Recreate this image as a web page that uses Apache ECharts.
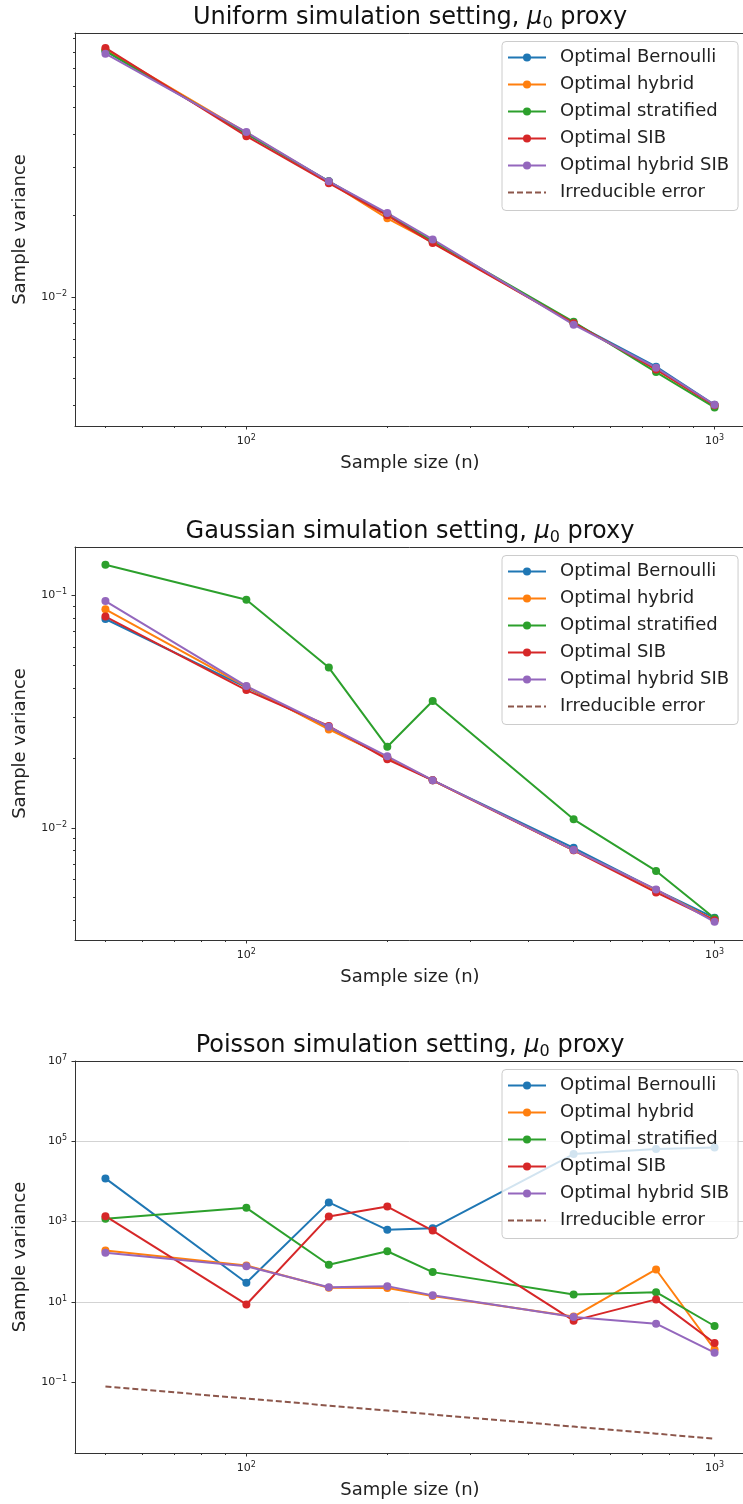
<!DOCTYPE html>
<html>
<head>
<meta charset="utf-8">
<script src="https://cdn.jsdelivr.net/npm/echarts@6.0.0/dist/echarts.min.js"></script>
<style>
html, body { margin: 0; padding: 0; background: #fff; overflow: hidden; }
#chart { width: 743px; height: 1504px; }
</style>
</head>
<body>
<div id="chart"></div>
<script>
// sample sizes (x) shared by all three panels
const sampleSizes = [50, 100, 150, 200, 250, 500, 750, 1000];
const seriesNames = ['Optimal Bernoulli', 'Optimal hybrid', 'Optimal stratified', 'Optimal SIB', 'Optimal hybrid SIB', 'Irreducible error'];
const seriesColors = ['#1f77b4', '#ff7f0e', '#2ca02c', '#d62728', '#9467bd', '#8c564b'];

// Uniform setting
const uniBernoulli = [0.081, 0.0400, 0.0267, 0.0201, 0.0160, 0.0080, 0.00553, 0.00400];
const uniHybrid = [0.082, 0.0404, 0.0266, 0.0195, 0.0159, 0.0080, 0.00540, 0.00398];
const uniStratified = [0.081, 0.0401, 0.0267, 0.0201, 0.0161, 0.0081, 0.00528, 0.00391];
const uniSIB = [0.083, 0.0392, 0.0263, 0.0200, 0.0158, 0.0080, 0.00540, 0.00398];
const uniHybridSIB = [0.079, 0.0406, 0.0267, 0.0204, 0.0163, 0.0079, 0.00548, 0.00400];

// Gaussian setting
const gauBernoulli = [0.0791, 0.0402, 0.0268, 0.0200, 0.0160, 0.0082, 0.0054, 0.0041];
const gauHybrid = [0.0871, 0.0405, 0.0265, 0.0201, 0.0160, 0.0080, 0.0054, 0.0040];
const gauStratified = [0.1355, 0.0958, 0.0489, 0.0223, 0.0351, 0.01087, 0.00652, 0.00408];
const gauSIB = [0.0810, 0.0391, 0.0274, 0.0197, 0.0160, 0.0080, 0.00527, 0.0040];
const gauHybridSIB = [0.0945, 0.0407, 0.0272, 0.0203, 0.01603, 0.00802, 0.00543, 0.00394];

// Poisson setting
const poiBernoulli = [11900, 29.9, 3000, 621, 682, 48000, 64000, 70000];
const poiHybrid = [190, 80, 22.4, 22, 13.9, 4.3, 64, 0.65];
const poiStratified = [1170, 2200, 84, 182, 55, 15.3, 17.4, 2.5];
const poiSIB = [1360, 8.6, 1330, 2360, 597, 3.4, 11.5, 0.94];
const poiHybridSIB = [166, 77, 23.2, 24.6, 14.5, 4.2, 2.85, 0.54];
const poiIrreducible = [0.078, 0.039, 0.026, 0.0195, 0.0156, 0.0078, 0.0052, 0.0039];

// tick values
const xMajorTicks = [100, 1000];
const xMinorTicks = [50, 60, 70, 80, 90, 200, 300, 400, 500, 600, 700, 800, 900];
const yMajorUniform = [0.01];
const yMajorGaussian = [0.01, 0.1];
const yMinorSmall = [0.004, 0.005, 0.006, 0.007, 0.008, 0.009, 0.02, 0.03, 0.04, 0.05, 0.06, 0.07, 0.08, 0.09];
const yMajorPoisson = [0.1, 10, 1000, 100000, 10000000];

const panels = [
  { title: 'Uniform simulation setting, ', top: 33, height: 393, yMin: 0.00334, yMax: 0.0942,
    yMajor: yMajorUniform, yMinor: yMinorSmall,
    data: [uniBernoulli, uniHybrid, uniStratified, uniSIB, uniHybridSIB] },
  { title: 'Gaussian simulation setting, ', top: 547, height: 393, yMin: 0.00329, yMax: 0.1614,
    yMajor: yMajorGaussian, yMinor: yMinorSmall,
    data: [gauBernoulli, gauHybrid, gauStratified, gauSIB, gauHybridSIB] },
  { title: 'Poisson simulation setting, ', top: 1061, height: 392, yMin: 0.001714, yMax: 10000000,
    yMajor: yMajorPoisson, yMinor: [],
    data: [poiBernoulli, poiHybrid, poiStratified, poiSIB, poiHybridSIB, poiIrreducible] }
];

// x range; the plot area is cut off by the right edge of the picture
const xMin = 43.05, xMax = 1220;
const FONT = 'DejaVu Sans';
const inkColor = '#222222';
const spineColor = '#333333';
const gridLineColor = '#d3d3d3';

function powLabel(v) {
  const e = Math.round(Math.log10(v));
  return '10{sup|' + String(e).replace('-', '\u2212') + '}';
}
const tickLabelStyle = {
  fontFamily: FONT, fontSize: 11, color: inkColor, lineHeight: 14,
  rich: { sup: { fontFamily: FONT, fontSize: 8, color: inkColor, lineHeight: 9, verticalAlign: 'top' } }
};

// legend entries: the dashed reference line shows no marker
const legendData = seriesNames.map((name, i) =>
  i === 5 ? { name: name, itemStyle: { opacity: 0 } } : { name: name });

const chart = echarts.init(document.getElementById('chart'), null, { renderer: 'canvas' });

const grid = [], xAxis = [], yAxis = [], legend = [], series = [];

panels.forEach((p, k) => {
  grid.push({ left: 75, width: 680, top: p.top, height: p.height, show: false,
    containLabel: false, outerBoundsMode: 'none' });

  // main x axis: data, major ticks, labels, grid lines
  xAxis.push({
    type: 'log', gridIndex: k, position: 'bottom', min: xMin, max: xMax,
    name: 'Sample size (n)', nameLocation: 'middle', nameGap: 27,
    nameTextStyle: { fontFamily: FONT, fontSize: 18, color: inkColor, lineHeight: 20, padding: [0, 10, 0, 0] },
    axisLine: { show: true, onZero: false, lineStyle: { color: spineColor, width: 1 } },
    axisTick: { show: true, length: 3.5, customValues: xMajorTicks, lineStyle: { color: spineColor } },
    axisLabel: Object.assign({ margin: 8, customValues: xMajorTicks, formatter: powLabel }, tickLabelStyle),
    splitLine: { show: true, showMinLine: false, showMaxLine: false, lineStyle: { color: gridLineColor, width: 1 } }
  });
  // minor ticks
  xAxis.push({
    type: 'log', gridIndex: k, position: 'bottom', min: xMin, max: xMax,
    axisLine: { show: false, onZero: false },
    axisTick: { show: true, length: 2, customValues: xMinorTicks, lineStyle: { color: spineColor } },
    axisLabel: { show: false }, splitLine: { show: false }
  });
  // top spine + title as the axis name, centred on the plot area
  xAxis.push({
    type: 'log', gridIndex: k, position: 'top', min: xMin, max: xMax,
    name: p.title + '{mu|\u03bc}{sub|0} proxy', nameLocation: 'middle', nameGap: 1,
    nameTextStyle: {
      fontFamily: FONT, fontSize: 24, color: '#111', lineHeight: 28, padding: [0, 10, 0, 0],
      rich: {
        mu: { fontFamily: FONT, fontSize: 24, fontStyle: 'italic', color: '#111', lineHeight: 28 },
        sub: { fontFamily: FONT, fontSize: 16, color: '#111', lineHeight: 28, verticalAlign: 'bottom' }
      }
    },
    axisLine: { show: true, onZero: false, lineStyle: { color: spineColor, width: 1 } },
    axisTick: { show: false }, axisLabel: { show: false }, splitLine: { show: false }
  });

  yAxis.push({
    type: 'log', gridIndex: k, position: 'left', min: p.yMin, max: p.yMax,
    name: 'Sample variance', nameLocation: 'middle', nameGap: 45,
    nameTextStyle: { fontFamily: FONT, fontSize: 18, color: inkColor, lineHeight: 20 },
    axisLine: { show: true, onZero: false, lineStyle: { color: spineColor, width: 1 } },
    axisTick: { show: true, length: 3.5, customValues: p.yMajor, lineStyle: { color: spineColor } },
    axisLabel: Object.assign({ margin: 8, customValues: p.yMajor, formatter: powLabel }, tickLabelStyle),
    splitLine: { show: true, showMinLine: false, showMaxLine: false, lineStyle: { color: gridLineColor, width: 1 } }
  });
  yAxis.push({
    type: 'log', gridIndex: k, position: 'left', offset: 0, min: p.yMin, max: p.yMax,
    axisLine: { show: false, onZero: false },
    axisTick: { show: p.yMinor.length > 0, length: 2, customValues: p.yMinor, lineStyle: { color: spineColor } },
    axisLabel: { show: false }, splitLine: { show: false }
  });

  legend.push({
    orient: 'vertical', left: 502, top: p.top + 8.5,
    data: legendData,
    itemWidth: 38, itemHeight: 10, itemGap: 7,
    padding: [6, 9, 8, 5],
    backgroundColor: 'rgba(255,255,255,0.8)',
    borderColor: '#cccccc', borderWidth: 1, borderRadius: 4,
    selectedMode: false,
    textStyle: { fontFamily: FONT, fontSize: 18, color: inkColor, lineHeight: 20, padding: [0, 0, 0, 9] }
  });

  p.data.forEach((vals, i) => {
    const dashed = i === 5;
    series.push({
      name: seriesNames[i], type: 'line',
      xAxisIndex: k * 3, yAxisIndex: k * 2,
      data: sampleSizes.map((n, j) => [n, vals[j]]),
      symbol: dashed ? 'none' : 'circle', symbolSize: 8, showAllSymbol: true,
      lineStyle: { width: 2, color: seriesColors[i], type: dashed ? [6, 3] : 'solid' },
      itemStyle: { color: seriesColors[i] },
      emphasis: { disabled: true },
      silent: true, animation: false
    });
  });
});

chart.setOption({
  animation: false,
  backgroundColor: '#ffffff',
  grid, xAxis, yAxis, legend, series
});
</script>
</body>
</html>
